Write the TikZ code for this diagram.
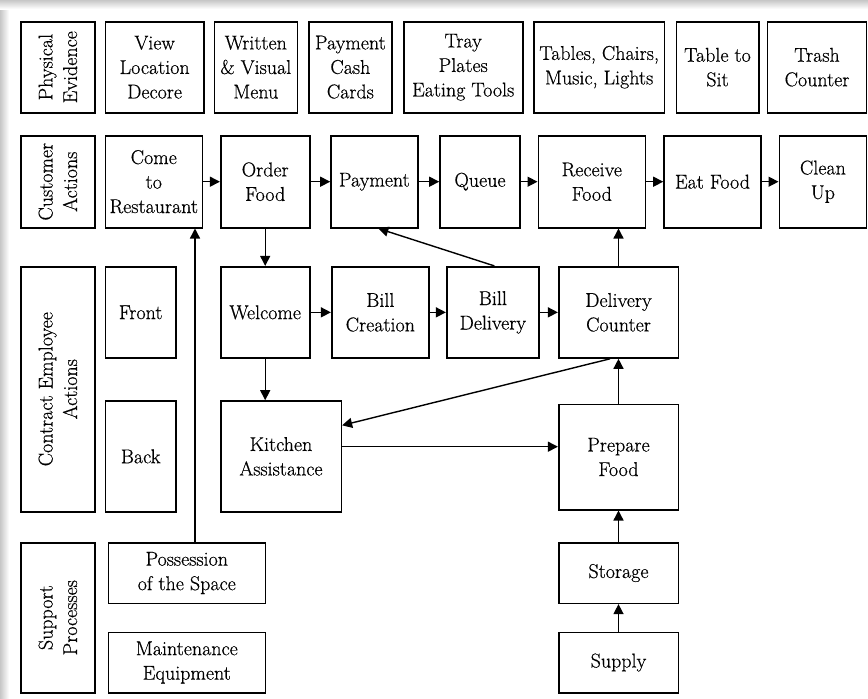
\documentclass[tikz,border=0pt]{standalone}
\usepackage{fontspec}
\setmainfont{Latin Modern Roman}
\newfontfamily\boxfam{Latin Modern Roman}[FakeBold=0.5]
\usetikzlibrary{arrows.meta}
\newcommand{\boxfont}{\boxfam\fontsize{20}{24.5}\selectfont}
\tikzset{
  blk/.style={draw=black, line width=1.6pt, align=center, inner sep=0pt,
              font=\boxfont},
  lane/.style={blk, rotate=90},
  arr/.style={-{Triangle[length=10pt,width=10pt]}, line width=1.4pt, draw=black},
  sz/.style 2 args={minimum width=#1pt, minimum height=#2pt}
}
\begin{document}
\begin{tikzpicture}[x=1pt,y=-1pt]
\useasboundingbox (0,0) rectangle (868,699);
\fill[white] (0,0) rectangle (868,699);
% soft page shadow along the top and left edges
\shade[left color=black!22, right color=white] (0,0) rectangle (9,699);
\shade[top color=black!22, bottom color=white] (0,0) rectangle (868,9);
\fill[white] (9,9) rectangle (868,699);

% ---- lane labels (rotated; width/height swapped) ----
\node[lane, sz={91}{74.3}] (pe) at (57.85,67.2) {Physical\\Evidence};
\node[lane, sz={92}{74.3}] (ca) at (57.85,181.7) {Customer\\Actions};
\node[lane, sz={245}{74.3}] (cea) at (57.85,389.2) {Contract Employee\\Actions};
\node[lane, sz={150}{74.3}] (sp) at (57.85,617.7) {Support\\Processes};

% ---- physical evidence ----
\node[blk, sz={98.7}{91}] (view) at (154.65,67.2) {View\\Location\\Decore};
\node[blk, sz={83}{91}] (menu) at (255.8,67.2) {Written\\\& Visual\\Menu};
\node[blk, sz={82.7}{91}] (cash) at (350.35,67.2) {Payment\\Cash\\Cards};
\node[blk, sz={119}{91}] (tray) at (463.2,67.2) {Tray\\Plates\\Eating Tools};
\node[blk, sz={130.3}{91}] (tables) at (599.15,67.2) {Tables, Chairs,\\Music, Lights};
\node[blk, sz={82.4}{91}] (sit) at (717.5,67.2) {Table to\\Sit};
\node[blk, sz={99}{91}] (trash) at (817,67.2) {Trash\\Counter};

% ---- customer actions ----
\node[blk, sz={97}{92}] (come) at (153.8,181.7) {Come\\to\\Restaurant};
\node[blk, sz={89}{92}] (order) at (265.2,181.7) {Order\\Food};
\node[blk, sz={86.7}{92}] (pay) at (374.35,181.7) {Payment};
\node[blk, sz={80}{92}] (queue) at (480,181.7) {Queue};
\node[blk, sz={107}{92}] (recv) at (591.8,181.7) {Receive\\Food};
\node[blk, sz={97}{92}] (eat) at (712.5,181.7) {Eat Food};
\node[blk, sz={87.2}{92}] (clean) at (822.9,181.7) {Clean\\Up};

% ---- contact employee actions ----
\node[blk, sz={70.7}{91.3}] (front) at (140.65,312.35) {Front};
\node[blk, sz={70.7}{110.7}] (back) at (140.65,456.35) {Back};
\node[blk, sz={89}{91.3}] (welcome) at (265.2,312.35) {Welcome};
\node[blk, sz={97.3}{91.3}] (billc) at (380.35,312.35) {Bill\\Creation};
\node[blk, sz={92.3}{91.3}] (billd) at (492.85,312.35) {Bill\\Delivery};
\node[blk, sz={119.6}{91.3}] (dcount) at (618.5,312.35) {Delivery\\Counter};
\node[blk, sz={120.6}{110.7}] (kitchen) at (281,456.35) {Kitchen\\Assistance};
\node[blk, sz={119.6}{105.4}] (prep) at (618.5,457) {Prepare\\Food};

% ---- support processes ----
\node[blk, sz={157}{60.6}] (space) at (186.8,573) {Possession\\of the Space};
\node[blk, sz={157}{60.4}] (maint) at (186.8,662.5) {Maintenance\\Equipment};
\node[blk, sz={119.6}{60.6}] (store) at (618.5,573) {Storage};
\node[blk, sz={119.6}{60.4}] (supply) at (618.5,662.5) {Supply};

% ---- guide coordinates for off-centre connectors ----
\coordinate (spx) at (195,0);
\coordinate (ky) at (0,446.7);

% ---- customer flow ----
\draw[arr] (come) -- (order);
\draw[arr] (order) -- (pay);
\draw[arr] (pay) -- (queue);
\draw[arr] (queue) -- (recv);
\draw[arr] (recv) -- (eat);
\draw[arr] (eat) -- (clean);

% ---- employee flow ----
\draw[arr] (order.south) -- (welcome.north);
\draw[arr] (welcome) -- (billc);
\draw[arr] (billc) -- (billd);
\draw[arr] (billd) -- (dcount);
\draw[arr] (welcome.south) -- (welcome.south |- kitchen.north);
\draw[arr] ([xshift=1.5pt]billd.north) -- ([xshift=4pt]pay.south);
\draw[arr] (dcount.north) -- (dcount.north |- recv.south);
\draw[arr] ([xshift=-8.5pt]dcount.south) -- ([yshift=31pt]kitchen.east);
\draw[arr] (kitchen.east |- ky) -- (prep.west |- ky);
\draw[arr] (prep) -- (dcount);

% ---- support flow ----
\draw[arr] (store) -- (prep);
\draw[arr] (supply) -- (store);
\draw[arr] (space.north -| spx) -- (come.south -| spx);
\end{tikzpicture}
\end{document}
